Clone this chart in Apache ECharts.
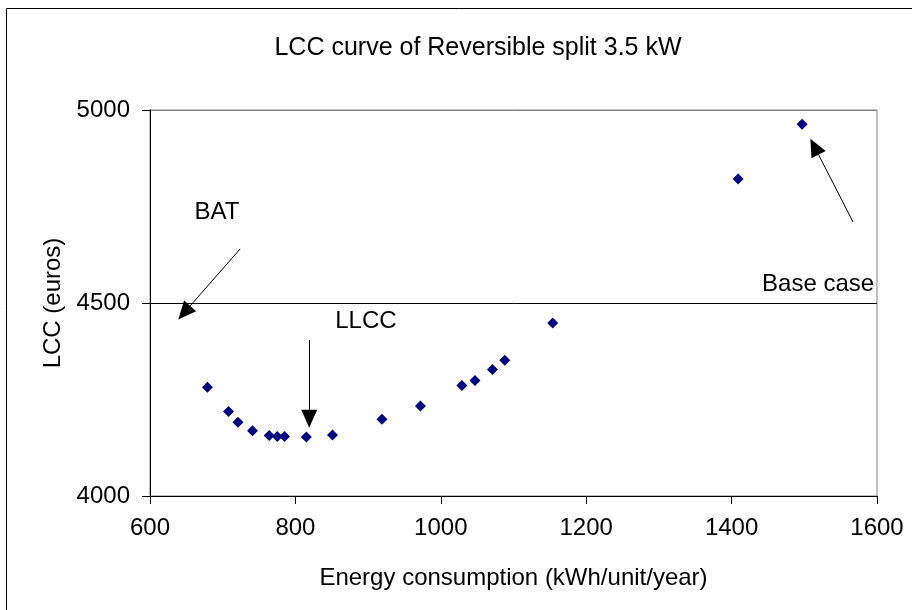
<!DOCTYPE html>
<html>
<head>
<meta charset="utf-8">
<script src="https://cdn.jsdelivr.net/npm/echarts@6/dist/echarts.min.js"></script>
<style>
html,body{margin:0;padding:0;background:#fff;}
#chart{width:912px;height:610px;}
</style>
</head>
<body>
<div id="chart"></div>
<script>
// Data
const energy = [679, 708, 721, 741, 764, 775, 785, 815, 851, 919, 972, 1029, 1047, 1071, 1088, 1154, 1409, 1497];
const lcc = [4282, 4219, 4191, 4169, 4157, 4154, 4154, 4153, 4158, 4199, 4233, 4286, 4299, 4328, 4352, 4448, 4821, 4963];
const xTicks = [600, 800, 1000, 1200, 1400, 1600];
const yTicks = [4000, 4500, 5000];
// Annotation texts and anchors (data coordinates)
const noteNames = ['BAT', 'LLCC', 'Base case'];
const noteTextX = [692, 897, 1519];
const noteTextY = [4736, 4453, 4547];
const arrowFromX = [724, 819, 1567];
const arrowFromY = [4640, 4404, 4710];
const arrowToX = [647, 819, 1514];
const arrowToY = [4475, 4200, 4905];

const FONT = 'Liberation Sans, Arial, sans-serif';
const chart = echarts.init(document.getElementById('chart'), null, {renderer: 'canvas'});

const points = energy.map((e, i) => [e, lcc[i]]);
const arrows = noteNames.map((n, i) => [
  {coord: [arrowFromX[i], arrowFromY[i]], symbol: 'none'},
  {coord: [arrowToX[i], arrowToY[i]], symbol: 'triangle'}
]);
const notes = noteNames.map((n, i) => ({name: n, coord: [noteTextX[i], noteTextY[i]]}));

chart.setOption({
  animation: false,
  backgroundColor: '#fff',
  graphic: [{
    type: 'rect', left: 4, top: 6,
    shape: {width: 940, height: 640},
    style: {fill: 'none', stroke: '#000', lineWidth: 1}
  }],
  title: {
    text: 'LCC curve of Reversible split 3.5 kW',
    left: 473, top: 31, textAlign: 'center',
    textStyle: {fontFamily: FONT, fontSize: 25, fontWeight: 'normal', color: '#000'}
  },
  grid: {
    left: 150, top: 110, right: 35, bottom: 114,
    show: true, borderColor: '#808080', borderWidth: 1, backgroundColor: '#fff'
  },
  xAxis: {
    type: 'value', min: xTicks[0], max: xTicks[xTicks.length - 1], interval: 200,
    name: 'Energy consumption (kWh/unit/year)', nameLocation: 'middle', nameGap: 70,
    nameTextStyle: {fontFamily: FONT, fontSize: 24, color: '#000'},
    axisLine: {show: true, lineStyle: {color: '#000', width: 1}},
    axisTick: {show: true, inside: false, length: 8, lineStyle: {color: '#000'}},
    axisLabel: {fontFamily: FONT, fontSize: 24, color: '#000', margin: 20, formatter: v => String(v)},
    splitLine: {show: false}
  },
  yAxis: {
    type: 'value', min: yTicks[0], max: yTicks[yTicks.length - 1], interval: 500,
    name: 'LCC (euros)', nameLocation: 'middle', nameGap: 84,
    nameTextStyle: {fontFamily: FONT, fontSize: 24, color: '#000'},
    axisLine: {show: true, lineStyle: {color: '#000', width: 1}},
    axisTick: {show: true, inside: false, length: 8, lineStyle: {color: '#000'}},
    axisLabel: {fontFamily: FONT, fontSize: 24, color: '#000', margin: 20, formatter: v => String(v)},
    splitLine: {show: true, lineStyle: {color: ['#000', '#000', '#808080'], width: 1}}
  },
  series: [{
    type: 'scatter',
    data: points,
    symbol: 'diamond',
    symbolSize: 11,
    itemStyle: {color: '#000080', opacity: 1},
    markLine: {
      silent: true,
      symbol: ['none', 'triangle'],
      symbolSize: [16, 18],
      lineStyle: {color: '#000', width: 1, type: 'solid'},
      itemStyle: {color: '#000'},
      label: {show: false},
      data: arrows
    },
    markPoint: {
      silent: true,
      symbol: 'circle',
      symbolSize: 1,
      itemStyle: {color: 'rgba(0,0,0,0)'},
      label: {show: true, position: 'inside', formatter: '{b}', fontFamily: FONT, fontSize: 24, color: '#000'},
      data: notes
    }
  }]
});
</script>
</body>
</html>
